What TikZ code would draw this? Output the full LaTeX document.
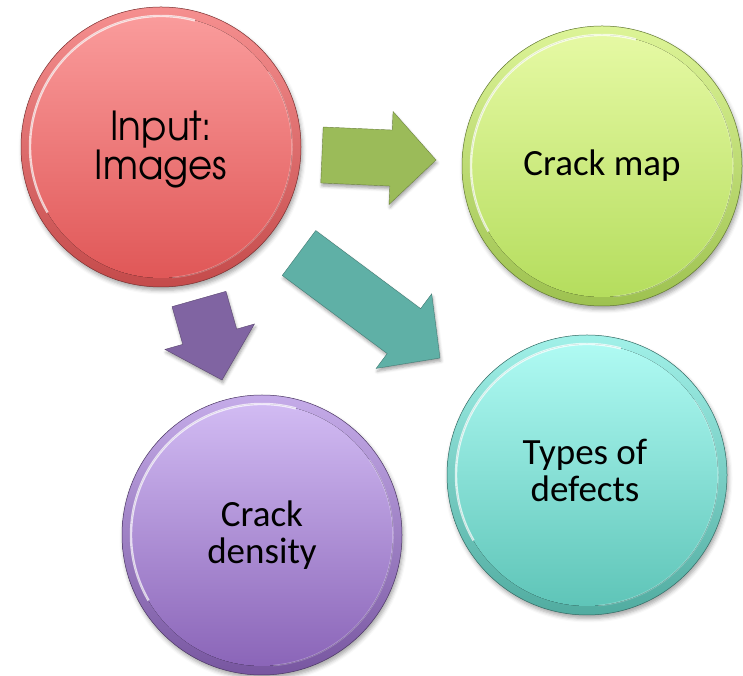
\documentclass[tikz,border=0pt]{standalone}
\usepackage{fontspec}
\usetikzlibrary{calc,shadows.blur}
\newfontfamily\gothic[FakeStretch=0.93]{texgyreadventor-regular.otf}
\newfontfamily\calib{Carlito}

\definecolor{redT}{HTML}{FB9E9E}
\definecolor{redB}{HTML}{DF5555}
\definecolor{grnT}{HTML}{E7FAA6}
\definecolor{grnB}{HTML}{B3DC5B}
\definecolor{tealT}{HTML}{B2FCF5}
\definecolor{tealB}{HTML}{5CC3B6}
\definecolor{purT}{HTML}{D4BEF5}
\definecolor{purB}{HTML}{8862B6}
\definecolor{arGreen}{HTML}{9BBB59}
\definecolor{arTeal}{HTML}{5FB0A6}
\definecolor{arPurple}{HTML}{8064A2}

\tikzset{
  disc/.style 2 args={circle, minimum size=280pt, inner sep=0pt,
    draw=#2!55!black, line width=0.5pt,
    top color=#1!80!#2, bottom color=#2!88!black,
    blur shadow={shadow xshift=1.5pt, shadow yshift=-3.5pt,
      shadow blur radius=4pt, shadow opacity=35},
    path picture={
      \fill[top color=#1, bottom color=#2]
        (path picture bounding box.center) circle (131pt);
      \draw[white, opacity=.7, line width=2.4pt]
        ([shift={(75:131pt)}]path picture bounding box.center)
        arc[start angle=75, end angle=210, radius=131pt];
      \draw[white, opacity=.25, line width=1.6pt]
        ([shift={(-85:131pt)}]path picture bounding box.center)
        arc[start angle=-85, end angle=35, radius=131pt];
    }},
  gothictext/.style={align=center, font=\gothic\fontsize{40pt}{39pt}\selectfont},
  calibtext/.style={align=center, font=\calib\fontsize{37pt}{37pt}\selectfont},
  blockfill/.style={fill=#1, draw=#1!70!black, line width=0.4pt,
    blur shadow={shadow xshift=1pt, shadow yshift=-3pt,
      shadow blur radius=3pt, shadow opacity=35}}
}

% block arrow from back point #2 to tip #3, named #1, colour #4
\newcommand\blockarrow[4]{%
  \coordinate (#1-h) at ($(#3)!45pt!(#2)$);
  \path[blockfill=#4]
    ($(#2)!28pt!90:(#3)$) -- ($(#1-h)!28pt!90:(#3)$)
    -- ($(#1-h)!46.5pt!90:(#3)$) -- (#3)
    -- ($(#1-h)!46.5pt!-90:(#3)$) -- ($(#1-h)!28pt!-90:(#3)$)
    -- ($(#2)!28pt!-90:(#3)$) -- cycle;
}

\begin{document}
\begin{tikzpicture}[x=1pt, y=1pt]
  \useasboundingbox (0,0) rectangle (743,676);

  % circles
  \node[disc={redT}{redB}] (inp) at (161,529) {};
  \node[gothictext] (inplbl) at (161,526) {Input:\\Images};
  \node[disc={grnT}{grnB}, calibtext] (map) at (602,510) {Crack map};
  \node[disc={tealT}{tealB}] (types) at (587,201) {};
  \node[calibtext] (typeslbl) at (585,206) {Types of\\defects};
  \node[disc={purT}{purB}, calibtext] (dens) at (262,141) {Crack\\density};

  % block arrows between the circles
  \coordinate (ga-b) at (322,521);
  \coordinate (ga-t) at (436,516);
  \coordinate (ta-b) at (299,423);
  \coordinate (ta-t) at (440,318);
  \coordinate (pa-b) at (199,377);
  \coordinate (pa-t) at (222,296);
  \blockarrow{ga}{ga-b}{ga-t}{arGreen}
  \blockarrow{ta}{ta-b}{ta-t}{arTeal}
  \blockarrow{pa}{pa-b}{pa-t}{arPurple}
\end{tikzpicture}
\end{document}
